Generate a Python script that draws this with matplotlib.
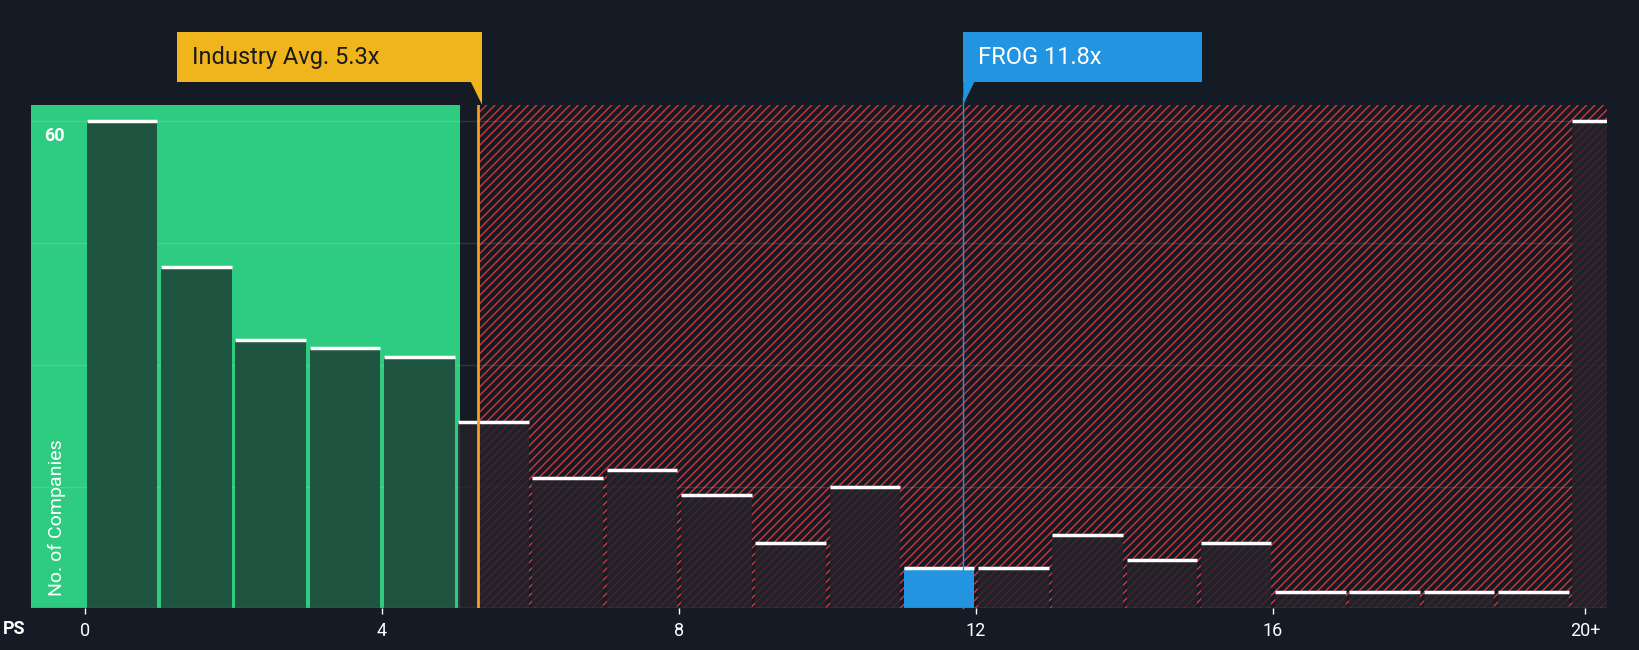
import numpy as np
import matplotlib.pyplot as plt
from matplotlib.patches import Rectangle

plt.rcParams['font.family'] = ['Roboto', 'DejaVu Sans']

# === Data ===
bin_left = [0, 1, 2, 3, 4, 5, 6, 7, 8, 9, 10, 11, 12, 13, 14, 15, 16, 17, 18, 19, 20]
counts = [60, 42, 33, 32, 31, 23, 16, 17, 14, 8, 15, 5, 5, 9, 6, 8, 2, 2, 2, 2, 60]
tick_pos = [0, 4, 8, 12, 16, 20.2]
tick_labels = ['0', '4', '8', '12', '16', '20+']
industry_avg = 5.3
frog_value = 11.83
frog_bin = 11

bg = '#151b24'
green = '#2ecc80'
red = '#d8343c'
blue = '#2394e0'
yellow = '#f0b41c'

fig = plt.figure(figsize=(16.4, 6.5), dpi=100, facecolor=bg)
ax = fig.add_axes([0.019, 0.064, 0.961, 0.775])
ax.set_facecolor(bg)
xmin, xmax = -0.72, 20.5
ymax = 62
ax.set_xlim(xmin, xmax)
ax.set_ylim(0, ymax)

# green zone and hatched zone
ax.add_patch(Rectangle((xmin, 0), 5.06 - xmin, ymax, facecolor=green, edgecolor='none', zorder=0))
plt.rcParams['hatch.linewidth'] = 1.0
ax.add_patch(Rectangle((industry_avg, 0), xmax - industry_avg, ymax, facecolor='none',
                       edgecolor=red, hatch='////', linewidth=0, zorder=0))

for y in [15, 30, 45, 60]:
    ax.axhline(y, color='white', alpha=0.12, lw=1, zorder=1)

for left, c in zip(bin_left, counts):
    w = 0.5 if left == 20 else 0.95
    x0 = left + 0.03
    if left == frog_bin:
        fc, a = blue, 1.0
    elif left < 5:
        fc, a = '#1e4a3c', 0.92
    else:
        fc, a = '#25232c', 0.85
    ax.add_patch(Rectangle((x0, 0), w, c, facecolor=fc, alpha=a, edgecolor='none', zorder=2))
    ax.plot([x0, x0 + w], [c, c], color='white', lw=2.5, zorder=3, solid_capstyle='butt')

ax.axvline(industry_avg, color='#f0a020', lw=2, zorder=4)
ax.plot([frog_value, frog_value], [0, ymax + 1], color=blue, lw=1, zorder=4, clip_on=False)

# annotation boxes
def label_box(x_left, x_right, text, color, anchor, right_side):
    y0, y1 = 64.8, 70.9
    ax.add_patch(Rectangle((x_left, y0), x_right - x_left, y1 - y0, facecolor=color,
                           edgecolor='none', clip_on=False, zorder=5))
    tip = anchor + (0.15 if right_side else -0.15)
    ax.add_patch(plt.Polygon([[anchor, y0], [anchor, ymax], [tip, y0]],
                             closed=True, facecolor=color, edgecolor='none', clip_on=False, zorder=5))
    ax.text(x_left + 0.2, (y0 + y1) / 2, text, color='white' if color == blue else '#1a1a1a',
            fontsize=17, va='center', ha='left', zorder=6, clip_on=False)

label_box(1.25, 5.35, 'Industry Avg. 5.3x', yellow, 5.35, False)
label_box(frog_value, 15.05, 'FROG 11.8x', blue, frog_value, True)

ax.set_xticks(tick_pos)
ax.set_xticklabels(tick_labels)
ax.tick_params(axis='x', colors='white', labelsize=13, length=4, width=1, pad=6)
ax.set_yticks([])
for s in ax.spines.values():
    s.set_visible(False)
ax.axhline(0, color='#555a63', lw=1, zorder=3)

ax.text(-0.55, 58.2, '60', color='white', fontsize=13, fontweight='bold', va='center', zorder=6)
ax.text(-0.37, 1.5, 'No. of Companies', color='white', fontsize=14, rotation=90,
        va='bottom', ha='center', zorder=6)
fig.text(0.002, 0.018, 'PS', color='white', fontsize=13, fontweight='bold', va='bottom')

fig.savefig('out.png', dpi=100, facecolor=bg)
